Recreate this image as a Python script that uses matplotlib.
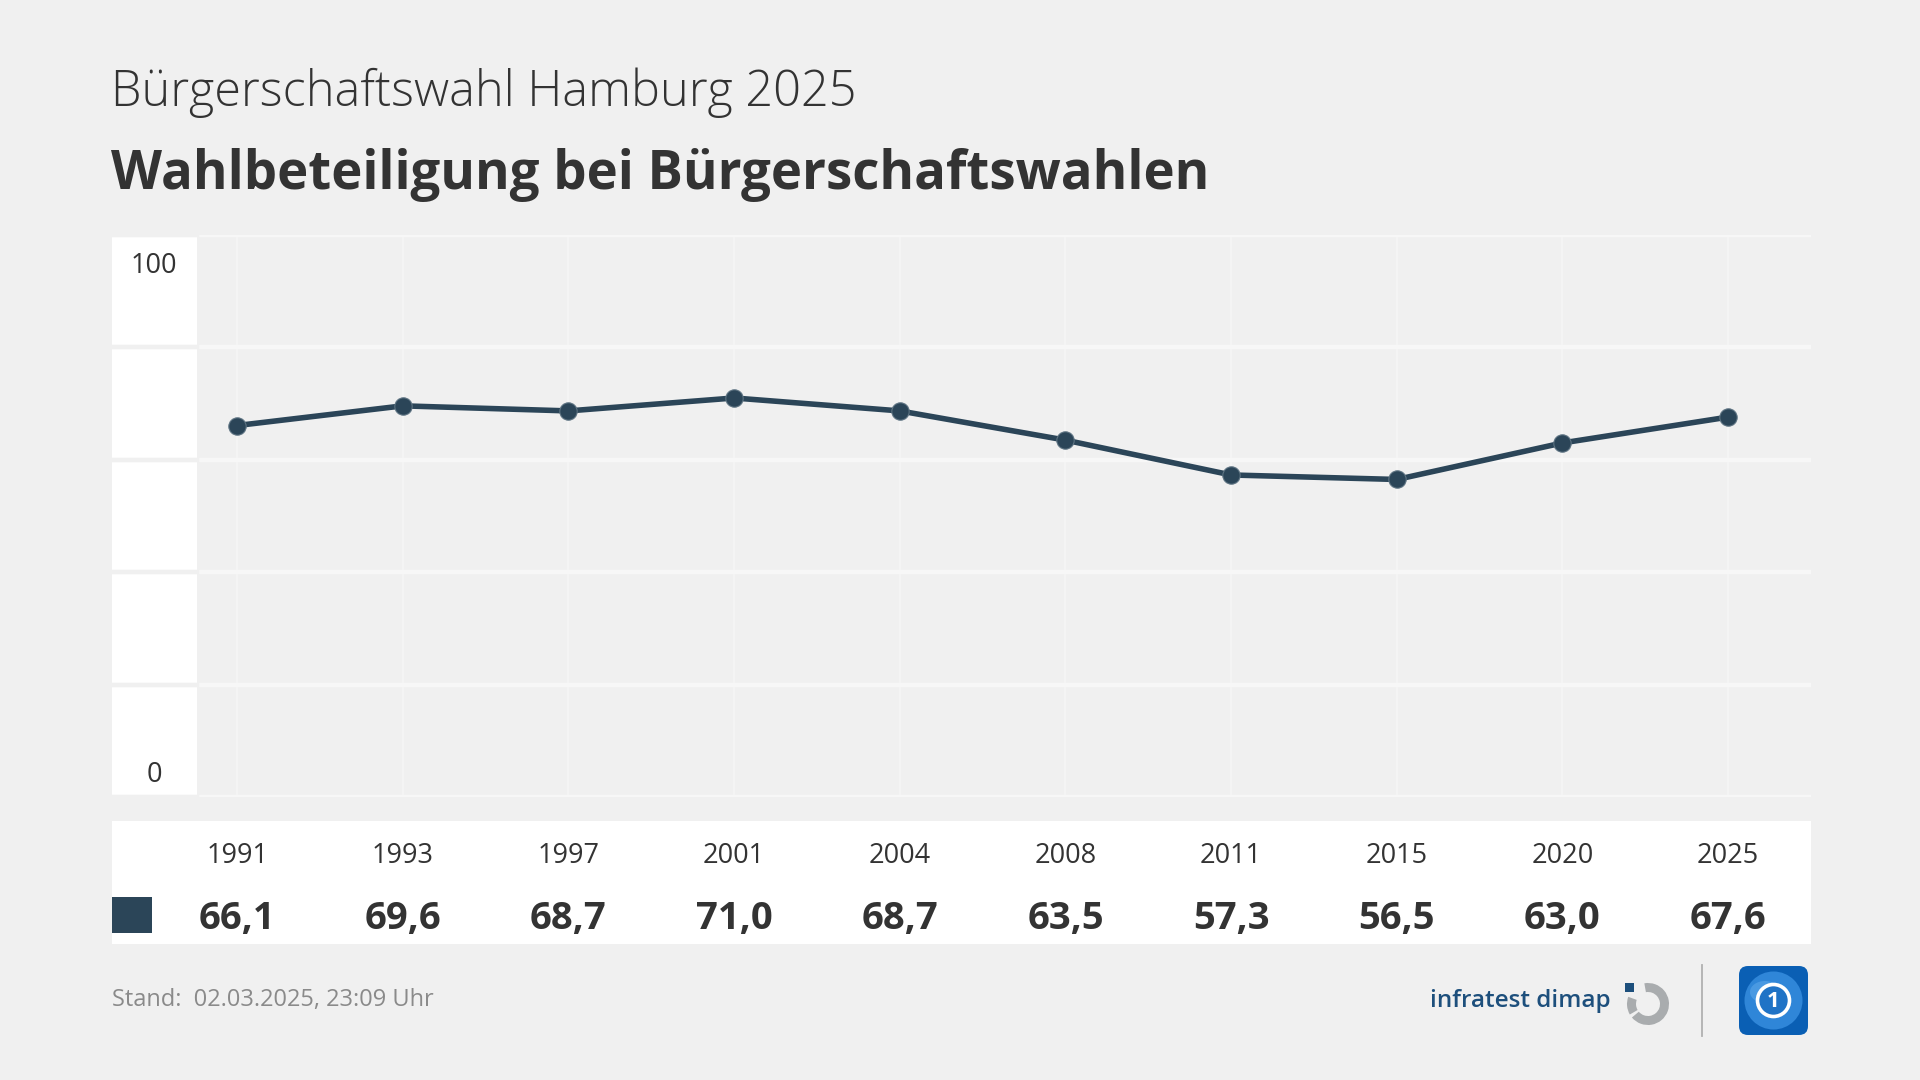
import matplotlib.pyplot as plt
import matplotlib.transforms as mtransforms
from matplotlib.patches import Rectangle, FancyBboxPatch, Circle, Wedge, Ellipse
import numpy as np

# Daten
jahre = ['1991', '1993', '1997', '2001', '2004', '2008', '2011', '2015', '2020', '2025']
beteiligung = [66.1, 69.6, 68.7, 71.0, 68.7, 63.5, 57.3, 56.5, 63.0, 67.6]
werte_text = ['66,1', '69,6', '68,7', '71,0', '68,7', '63,5', '57,3', '56,5', '63,0', '67,6']
y_ticks = [0, 20, 40, 60, 80, 100]

plt.rcParams['font.family'] = ['Open Sans', 'DejaVu Sans']

BG = '#f0f0f0'
LINE = '#2b4558'
TXT = '#333333'
W, H = 1920, 1080


def fx(px):
    return px / W


def fy(py):
    return 1 - py / H


fig = plt.figure(figsize=(19.2, 10.8), dpi=100, facecolor=BG)

# Titel
fig.text(fx(111), fy(106), 'Bürgerschaftswahl Hamburg 2025', fontsize=35, color=TXT,
         fontweight='light', va='baseline', ha='left')
fig.text(fx(111), fy(189), 'Wahlbeteiligung bei Bürgerschaftswahlen', fontsize=38, color=TXT,
         fontweight='bold', va='baseline', ha='left')

# Diagramm
ax = fig.add_axes([fx(112), fy(797), fx(1811) - fx(112), (797 - 235) / H])
ax.set_facecolor(BG)
x = np.arange(len(jahre))
ax.set_xlim(-0.755, 9.50)
ax.set_ylim(0, 100)

# weisse Spalte fuer y-Beschriftung
ax.add_patch(Rectangle((-0.755, 0), 0.514, 100, facecolor='white', edgecolor='none', zorder=1))

for yt in y_ticks:
    ax.axhline(yt, color='#f7f7f7', lw=3.2, zorder=2)
    ax.axhline(yt, xmin=0, xmax=0.514 / 10.255, color='#f0f0f0', lw=3.2, zorder=2)
for xi in x:
    ax.axvline(xi, color='#f6f6f6', lw=1.2, zorder=1.5)

ax.plot(x, beteiligung, color=LINE, lw=4, marker='o', markersize=12.5,
        markeredgecolor='#5d7382', markeredgewidth=0.8, zorder=5)

ax.text(-0.5, 94.5, '100', ha='center', va='center', fontsize=19.5, color=TXT, zorder=6)
ax.text(-0.5, 4, '0', ha='center', va='center', fontsize=19.5, color=TXT, zorder=6)

for s in ax.spines.values():
    s.set_visible(False)
ax.set_xticks([])
ax.set_yticks([])

# Tabelle unter dem Diagramm
fig.patches.append(Rectangle((fx(112), fy(944)), fx(1811) - fx(112), (944 - 821) / H,
                             transform=fig.transFigure, facecolor='white', edgecolor='none', zorder=0))
fig.patches.append(Rectangle((fx(112), fy(933)), fx(40), 36 / H,
                             transform=fig.transFigure, facecolor=LINE, edgecolor='none', zorder=1))
trans = mtransforms.blended_transform_factory(ax.transData, fig.transFigure)
for xi, j, w in zip(x, jahre, werte_text):
    fig.text(xi, fy(856), j, transform=trans, ha='center', va='center', fontsize=19.5, color=TXT)
    fig.text(xi, fy(919), w, transform=trans, ha='center', va='center', fontsize=27.5,
             fontweight='bold', color=TXT)

# Fusszeile
fig.text(fx(112), fy(1000), 'Stand:  02.03.2025, 23:09 Uhr', fontsize=17, color='#8a8a8a',
         ha='left', va='center')
fig.text(fx(1611), fy(1001), 'infratest dimap', fontsize=17.5, color='#1d4f7c',
         fontweight='semibold', ha='right', va='center')

# Logos in Pixelkoordinaten
lx = fig.add_axes([fx(1620), fy(1045), fx(200), 90 / H])
lx.set_xlim(1620, 1820)
lx.set_ylim(1045, 955)
lx.axis('off')

# infratest-Symbol (vereinfacht)
lx.add_patch(Wedge((1648, 1004), 21, -100, 140, width=9, facecolor='#a9acae', edgecolor='none'))
lx.add_patch(Wedge((1648, 1004), 21, 150, 200, width=9, facecolor='#a9acae', edgecolor='none'))
lx.add_patch(Rectangle((1625, 983), 9, 9, facecolor='#1d4f7c', edgecolor='none'))

lx.plot([1702, 1702], [965, 1036], color='#b0b0b0', lw=1.3)

# tagesschau-Symbol (vereinfacht)
lx.add_patch(FancyBboxPatch((1739, 966), 69, 69, boxstyle='round,pad=0,rounding_size=9',
                            facecolor='#0a5fb4', edgecolor='none'))
lx.add_patch(Circle((1773.5, 1000.5), 29, facecolor='#2f86d8', edgecolor='none'))
lx.add_patch(Ellipse((1765, 992), 30, 22, facecolor='#5ba6ea', edgecolor='none', alpha=0.6))
lx.add_patch(Circle((1773.5, 1000.5), 16, facecolor='#1f73c6', edgecolor='white', lw=2.6))
lx.text(1773.5, 1001.5, '1', fontsize=16, fontweight='bold', color='white',
        ha='center', va='center')

fig.savefig('out.png', dpi=100, facecolor=BG)
